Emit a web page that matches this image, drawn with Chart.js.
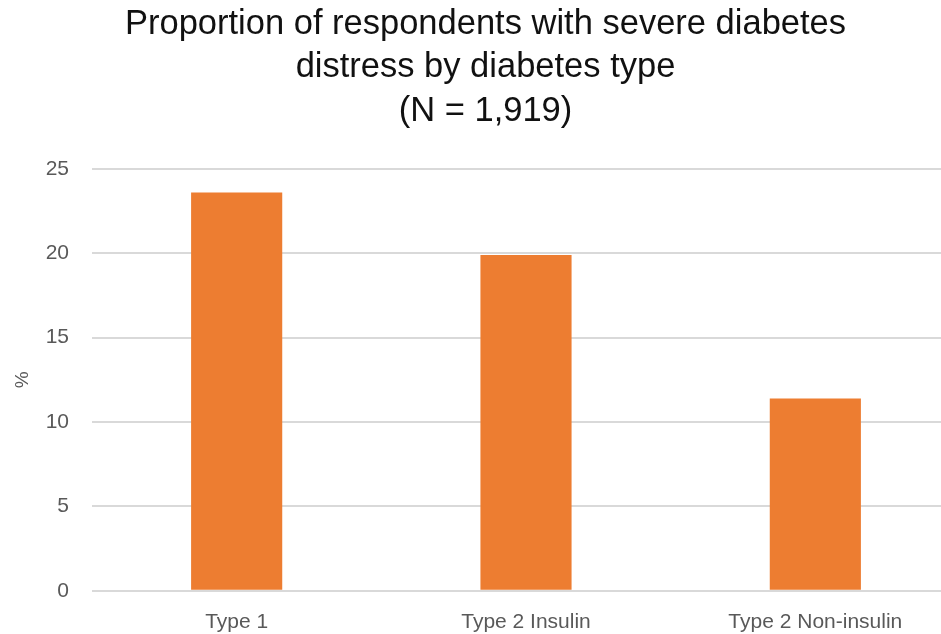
<!DOCTYPE html>
<html>
<head>
<meta charset="utf-8">
<script src="https://cdn.jsdelivr.net/npm/chart.js@4"></script>
<style>
html,body{margin:0;padding:0;background:#fff;overflow:hidden;}
#wrap{width:941px;height:634px;overflow:hidden;position:relative;}
canvas{display:block;}
</style>
</head>
<body>
<div id="wrap"><canvas id="c" width="960" height="654"></canvas></div>
<script>
const categories = ["Type 1", "Type 2 Insulin", "Type 2 Non-insulin"];
const severeDistress = [23.6, 19.9, 11.4];
const titleLines = ["Proportion of respondents with severe diabetes", "distress by diabetes type", "(N = 1,919)"];
const yTitle = "%";
const FONT = "'Liberation Sans', Arial, sans-serif";

new Chart(document.getElementById('c'), {
  type: 'bar',
  data: {
    labels: categories,
    datasets: [{
      data: severeDistress,
      backgroundColor: '#ED7D31',
      borderWidth: 0,
      categoryPercentage: 1,
      barPercentage: 0.315
    }]
  },
  options: {
    responsive: false,
    animation: false,
    layout: { padding: { left: 11, right: 0, top: 2, bottom: 0 } },
    plugins: {
      legend: { display: false },
      tooltip: { enabled: false },
      title: {
        display: true,
        text: titleLines,
        color: '#111',
        font: { family: FONT, size: 34.5, weight: 'normal', lineHeight: 1.275 },
        padding: { top: 0, bottom: 35 }
      }
    },
    scales: {
      x: {
        grid: { display: false, drawTicks: false },
        border: { display: false },
        ticks: { color: '#595959', font: { family: FONT, size: 21 }, padding: 19 }
      },
      y: {
        min: 0, max: 25,
        afterFit: (s) => { s.width = 81; },
        ticks: { stepSize: 5, color: '#595959', font: { family: FONT, size: 21 }, padding: 23 },
        grid: { color: '#d9d9d9', lineWidth: 2, drawTicks: false },
        border: { display: false },
        title: { display: true, text: yTitle, color: '#595959', font: { family: FONT, size: 19 }, padding: { top: 0, bottom: 0 } }
      }
    }
  }
});
</script>
</body>
</html>
